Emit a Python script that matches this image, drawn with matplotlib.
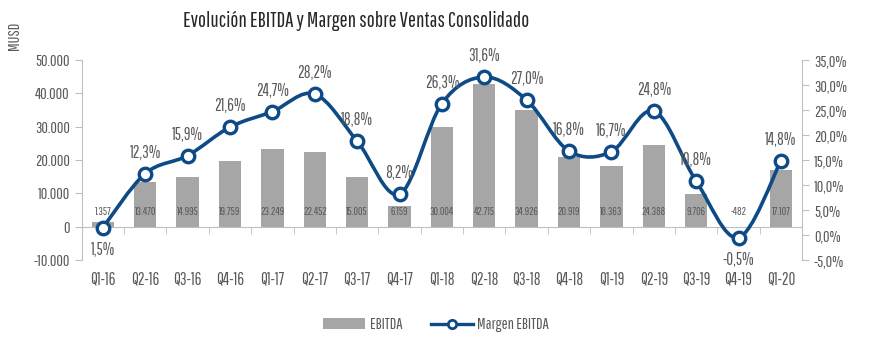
import matplotlib
matplotlib.use("Agg")
import matplotlib.pyplot as plt
from matplotlib.path import Path
from matplotlib.patches import PathPatch, Patch
from matplotlib.lines import Line2D
from matplotlib.ticker import FuncFormatter

# Narrow fonts close to the Agency-style face of the original, DejaVu as fallback
plt.rcParams['font.family'] = ['Pathway Gothic One', 'Saira ExtraCondensed', 'BenchNine',
                               'Antonio', 'Oswald', 'DejaVu Sans']

quarters = ['Q1-16', 'Q2-16', 'Q3-16', 'Q4-16', 'Q1-17', 'Q2-17', 'Q3-17', 'Q4-17',
            'Q1-18', 'Q2-18', 'Q3-18', 'Q4-18', 'Q1-19', 'Q2-19', 'Q3-19', 'Q4-19', 'Q1-20']
ebitda = [1357, 13470, 14995, 19759, 23249, 22452, 15005, 6159,
          30004, 42715, 34926, 20919, 18363, 24388, 9706, -482, 17107]
margen = [1.5, 12.3, 15.9, 21.6, 24.7, 28.2, 18.8, 8.2,
          26.3, 31.6, 27.0, 16.8, 16.7, 24.8, 10.8, -0.5, 14.8]

GRAY = '#a6a6a6'
BLUE = '#0d4a86'
TXT = '#595959'
AXC = '#bfbfbf'


def thousands(v, pos=None):
    return f'{v:,.0f}'.replace(',', '.')


def pct(v, pos=None):
    return f'{v:.1f}%'.replace('.', ',')


# Smooth line like Excel: Catmull-Rom turned into Bezier segments
def smooth_path(xs, ys, t=1 / 6):
    verts = [(xs[0], ys[0])]
    codes = [Path.MOVETO]
    n = len(xs)
    for i in range(n - 1):
        x0, y0 = (xs[i - 1], ys[i - 1]) if i > 0 else (xs[i], ys[i])
        x1, y1 = xs[i], ys[i]
        x2, y2 = xs[i + 1], ys[i + 1]
        x3, y3 = (xs[i + 2], ys[i + 2]) if i + 2 < n else (x2, y2)
        verts += [(x1 + (x2 - x0) * t, y1 + (y2 - y0) * t),
                  (x2 - (x3 - x1) * t, y2 - (y3 - y1) * t),
                  (x2, y2)]
        codes += [Path.CURVE4] * 3
    return Path(verts, codes)


fig = plt.figure(figsize=(8.69, 3.45), dpi=100)
ax = fig.add_axes([0.094, 0.246, 0.829, 0.580])
ax2 = ax.twinx()

x = list(range(len(quarters)))
ax.bar(x, ebitda, width=0.53, color=GRAY, zorder=2)
for xi, v in zip(x, ebitda):
    ax.text(xi, 4300, thousands(v), ha='center', va='center', fontsize=8, color=TXT, zorder=3)

ax.set_ylim(-10000, 50000)
ax.set_yticks(range(-10000, 50001, 10000))
ax.yaxis.set_major_formatter(FuncFormatter(thousands))
ax.set_xlim(-0.5, len(quarters) - 0.5)
ax.set_xticks(x)
ax.set_xticklabels(quarters)
ax.set_xticks([i + 0.5 for i in range(len(quarters) - 1)], minor=True)
ax.tick_params(axis='x', which='major', length=0, pad=32, labelsize=12, labelcolor=TXT)
ax.tick_params(axis='x', which='minor', length=5, color=AXC, direction='out')
ax.tick_params(axis='y', length=5, color=AXC, labelsize=11.5, labelcolor=TXT)

ax.spines['bottom'].set_position(('data', 0))
for s in ['top', 'right']:
    ax.spines[s].set_visible(False)
for s in ['left', 'bottom']:
    ax.spines[s].set_color(AXC)

ax2.set_ylim(-5, 35)
ax2.set_yticks(range(-5, 36, 5))
ax2.yaxis.set_major_formatter(FuncFormatter(pct))
ax2.tick_params(axis='y', length=5, color=AXC, labelsize=11.5, labelcolor=TXT)
for s in ['top', 'left', 'bottom']:
    ax2.spines[s].set_visible(False)
ax2.spines['right'].set_color(AXC)

ax2.add_patch(PathPatch(smooth_path(x, margen), facecolor='none', edgecolor=BLUE, lw=2.6, zorder=4))
ax2.plot(x, margen, linestyle='none', marker='o', ms=9, mfc='white', mec=BLUE, mew=2.4, zorder=5)
for xi, m in zip(x, margen):
    below = xi == 0 or m < 0
    ax2.annotate(pct(m), (xi, m), xytext=(0, -16 if below else 15), textcoords='offset points',
                 ha='center', va='center', fontsize=12, color=TXT, zorder=6)

fig.text(0.41, 0.94, 'Evolución EBITDA y Margen sobre Ventas Consolidado',
         ha='center', va='center', fontsize=15.3, color='#262626')
fig.text(0.017, 0.895, 'MUSD', rotation=90, ha='center', va='center', fontsize=11.5, color=TXT)

handles = [Patch(facecolor=GRAY, label='EBITDA'),
           Line2D([], [], color=BLUE, lw=2.4, marker='o', ms=6, mfc='white', mec=BLUE, mew=2,
                  label='Margen EBITDA')]
fig.legend(handles=handles, loc='center', bbox_to_anchor=(0.502, 0.058), ncol=2, frameon=False,
           fontsize=11.5, labelcolor=TXT, handlelength=2.6, columnspacing=1.8, handletextpad=0.3)

fig.savefig('out.png', dpi=100)
